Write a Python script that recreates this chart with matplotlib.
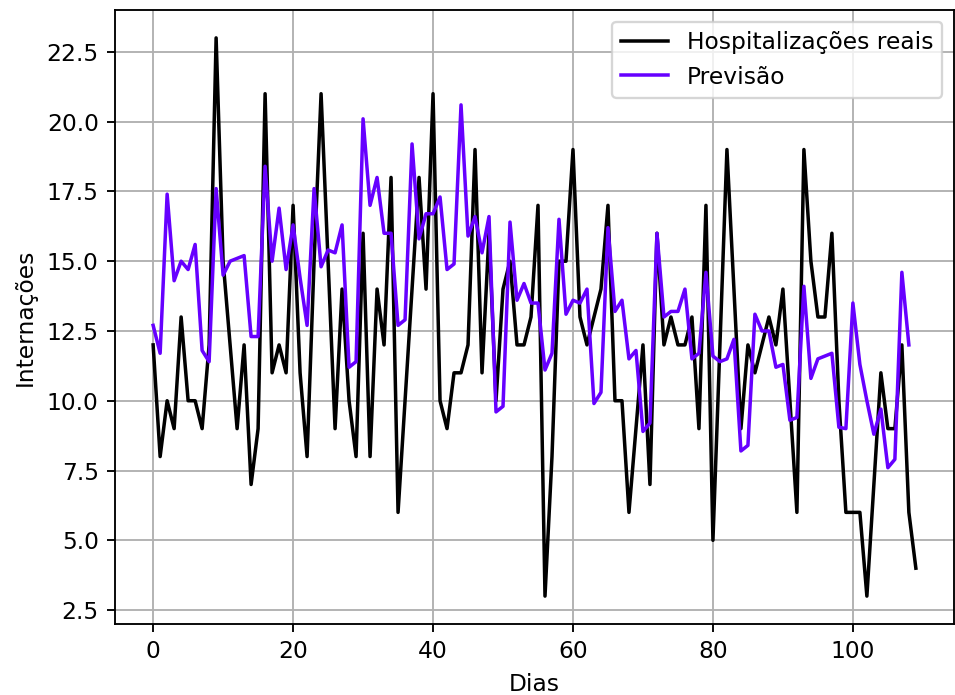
import matplotlib
matplotlib.use("Agg")
import matplotlib.pyplot as plt

real = [12, 8, 10, 9, 13, 10, 10, 9, 12, 23, 15, 12, 9, 12, 7, 9, 21, 11, 12, 11,
        17, 11, 8, 15, 21, 15, 9, 14, 10, 8, 16, 8, 14, 12, 18, 6, 10, 14, 18, 14,
        21, 10, 9, 11, 11, 12, 19, 11, 16, 10, 14, 15, 12, 12, 13, 17, 3, 8, 15, 15,
        19, 13, 12, 13, 14, 17, 10, 10, 6, 9, 12, 7, 16, 12, 13, 12, 12, 13, 9, 17,
        5, 12, 19, 14, 9, 12, 11, 12, 13, 12, 14, 10, 6, 19, 15, 13, 13, 16, 10, 6,
        6, 6, 3, 7, 11, 9, 9, 12, 6, 4]

pred = [12.7, 11.7, 17.4, 14.3, 15.0, 14.7, 15.6, 11.8, 11.4, 17.6,
        14.5, 15.0, 15.1, 15.2, 12.3, 12.3, 18.4, 15.0, 16.9, 14.7,
        16.3, 14.4, 12.7, 17.6, 14.8, 15.4, 15.3, 16.3, 11.2, 11.4,
        20.1, 17.0, 18.0, 16.0, 16.0, 12.7, 12.9, 19.2, 15.8, 16.7,
        16.7, 17.3, 14.7, 14.9, 20.6, 15.9, 16.6, 15.3, 16.6, 9.6,
        9.8, 16.4, 13.6, 14.2, 13.5, 13.5, 11.1, 11.7, 16.5, 13.1,
        13.6, 13.5, 14.0, 9.9, 10.3, 16.2, 13.2, 13.6, 11.5, 11.8,
        8.9, 9.2, 16.0, 13.0, 13.2, 13.2, 14.0, 11.5, 11.7, 14.6,
        11.6, 11.4, 11.5, 12.2, 8.2, 8.4, 13.1, 12.5, 12.5, 11.2,
        11.3, 9.3, 9.4, 14.1, 10.8, 11.5, 11.6, 11.7, 9.05, 9.0,
        13.5, 11.3, 10.0, 8.8, 9.7, 7.6, 7.9, 14.6, 12.0]

days_real = list(range(len(real)))
days_pred = list(range(len(pred)))

DPI = 168
fig = plt.figure(figsize=(955 / DPI, 695 / DPI), dpi=DPI)
ax = fig.add_axes([115 / 955, 71 / 695, (954 - 115) / 955, (624 - 10) / 695])

ax.plot(days_real, real, color="black", label="Hospitalizações reais")
ax.plot(days_pred, pred, color="#6600ff", label="Previsão")
ax.set_xlabel("Dias")
ax.set_ylabel("Internações")
ax.grid(True)
ax.legend(loc="upper right")

fig.savefig("out.png", dpi=DPI)
